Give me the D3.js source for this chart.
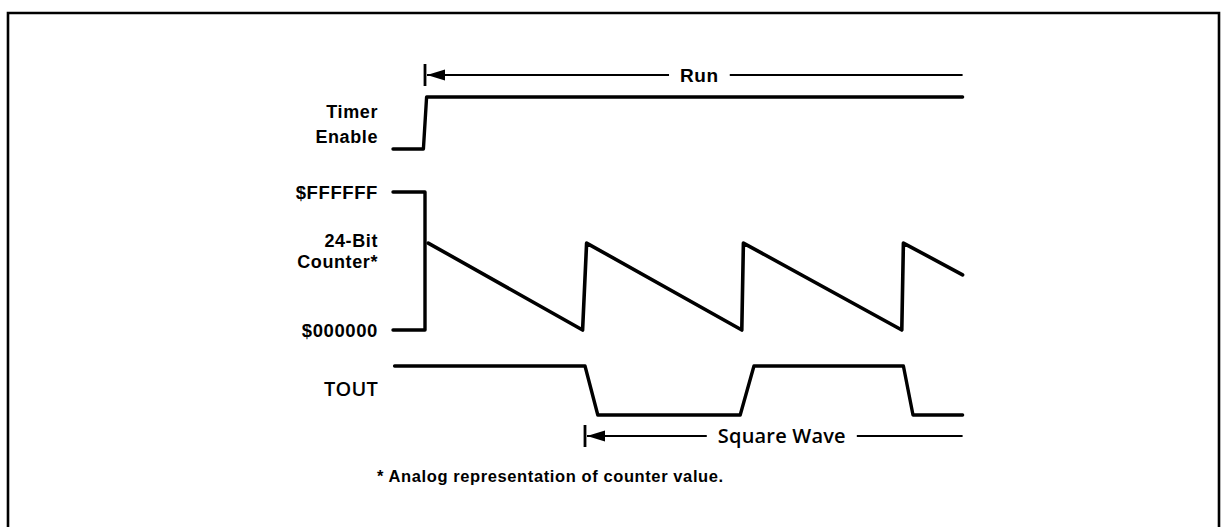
<!DOCTYPE html>
<html>
<head>
<meta charset="utf-8">
<script src="https://cdn.jsdelivr.net/npm/d3@7"></script>
<style>
  html, body { margin: 0; padding: 0; background: #fff; }
  svg { display: block; }
  .lbl { font-family: "Liberation Sans", Arial, sans-serif; font-weight: bold; fill: #000; letter-spacing: 0.6px; }
  .lbl2 { font-family: "Open Sans", sans-serif; font-weight: 600; fill: #000; letter-spacing: 0.2px; }
</style>
</head>
<body>
<svg id="chart" width="1223" height="527"></svg>
<script>
// ---- data (time in counter periods; t = 0 at Timer Enable) ----
const timeDomain = [-0.2, 3.4];

// Timer Enable signal (0 = low, 1 = high)
const enableTimes  = [-0.2, -0.01, 0.01, 3.36];
const enableLevels = [0, 0, 1, 1];

// 24-bit counter analog value (fraction of $FFFFFF)
const counterTimes  = [0.02, 0.985, 1.01, 1.98, 1.99, 2.98, 2.99, 3.36];
const counterValues = [0.63, 0, 0.63, 0, 0.63, 0, 0.63, 0.40];

// Counter range bracket ($FFFFFF .. $000000)
const bracketTimes  = [-0.2, 0, 0, -0.2];
const bracketValues = [1, 1, 0, 0];

// TOUT signal
const toutTimes  = [-0.19, 1.0, 1.08, 1.97, 2.056, 2.99, 3.05, 3.36];
const toutLevels = [1, 1, 0, 0, 1, 1, 0, 0];

// Signal / tick labels
const enableLabel = ["Timer", "Enable"];
const counterLabel = ["24-Bit", "Counter*"];
const counterTicks = [{v: 1, label: "$FFFFFF"}, {v: 0, label: "$000000"}];
const toutLabel = "TOUT";
const runArrow = {start: 0, end: 3.36, label: "Run", labelT: 1.715};
const squareArrow = {start: 1.0, end: 3.36, label: "Square Wave", labelT: 2.23};
const footnote = "* Analog representation of counter value.";

// ---- drawing ----
const svg = d3.select("#chart");

// frame
svg.append("path")
  .attr("d", "M8,540 V13 H1219 V540")
  .attr("fill", "none").attr("stroke", "#000").attr("stroke-width", 2.6);

const x = d3.scaleLinear().domain(timeDomain).range([393, 969]);
const yEnable = d3.scaleLinear().domain([0, 1]).range([149, 97]);
const yCounter = d3.scaleLinear().domain([0, 1]).range([330, 192]);
const yTout = d3.scaleLinear().domain([0, 1]).range([415, 366]);

function drawSignal(times, vals, yScale, w) {
  const pts = times.map((t, i) => [t, vals[i]]);
  svg.append("path")
    .attr("d", d3.line().x(d => x(d[0])).y(d => yScale(d[1]))(pts))
    .attr("fill", "none").attr("stroke", "#000")
    .attr("stroke-width", w).attr("stroke-linejoin", "round").attr("stroke-linecap", "round");
}

drawSignal(enableTimes, enableLevels, yEnable, 3.4);
drawSignal(bracketTimes, bracketValues, yCounter, 3.4);
drawSignal(counterTimes, counterValues, yCounter, 3.6);
drawSignal(toutTimes, toutLevels, yTout, 3.4);

// left labels (right-aligned)
const labelX = 378;
function label(txt, y, cls, size) {
  return svg.append("text").attr("class", cls || "lbl")
    .attr("x", labelX).attr("y", y).attr("text-anchor", "end")
    .attr("font-size", size || 18).text(txt);
}
label(enableLabel[0], 118);
label(enableLabel[1], 143);
counterTicks.forEach(d => label(d.label, yCounter(d.v) + 7, "lbl", 18.5));
label(counterLabel[0], 247);
label(counterLabel[1], 268);
label(toutLabel, 396, "lbl2", 20);

// arrows with centred label
function drawArrow(a, y, cls, size) {
  const x0 = x(a.start), x1 = x(a.end), xc = x(a.labelT);
  const t = svg.append("text").attr("class", cls)
    .attr("x", xc).attr("y", y + 7).attr("text-anchor", "middle")
    .attr("font-size", size).text(a.label);
  const w = t.node().getComputedTextLength();
  const gap = 11;
  svg.append("line").attr("x1", x0 + 2).attr("x2", xc - w / 2 - gap)
    .attr("y1", y).attr("y2", y).attr("stroke", "#000").attr("stroke-width", 2.2);
  svg.append("line").attr("x1", xc + w / 2 + gap).attr("x2", x1)
    .attr("y1", y).attr("y2", y).attr("stroke", "#000").attr("stroke-width", 2.2);
  // end bar
  svg.append("line").attr("x1", x0).attr("x2", x0)
    .attr("y1", y - 11).attr("y2", y + 11).attr("stroke", "#000").attr("stroke-width", 2.8);
  // arrowhead
  svg.append("path")
    .attr("d", `M${x0 + 2},${y} L${x0 + 20},${y - 5.5} L${x0 + 20},${y + 5.5} Z`)
    .attr("fill", "#000");
}
drawArrow(runArrow, 75, "lbl", 19);
drawArrow(squareArrow, 436, "lbl2", 20);

// footnote
svg.append("text").attr("class", "lbl")
  .attr("x", 377).attr("y", 482).attr("font-size", 16.5)
  .text(footnote);
</script>
</body>
</html>
